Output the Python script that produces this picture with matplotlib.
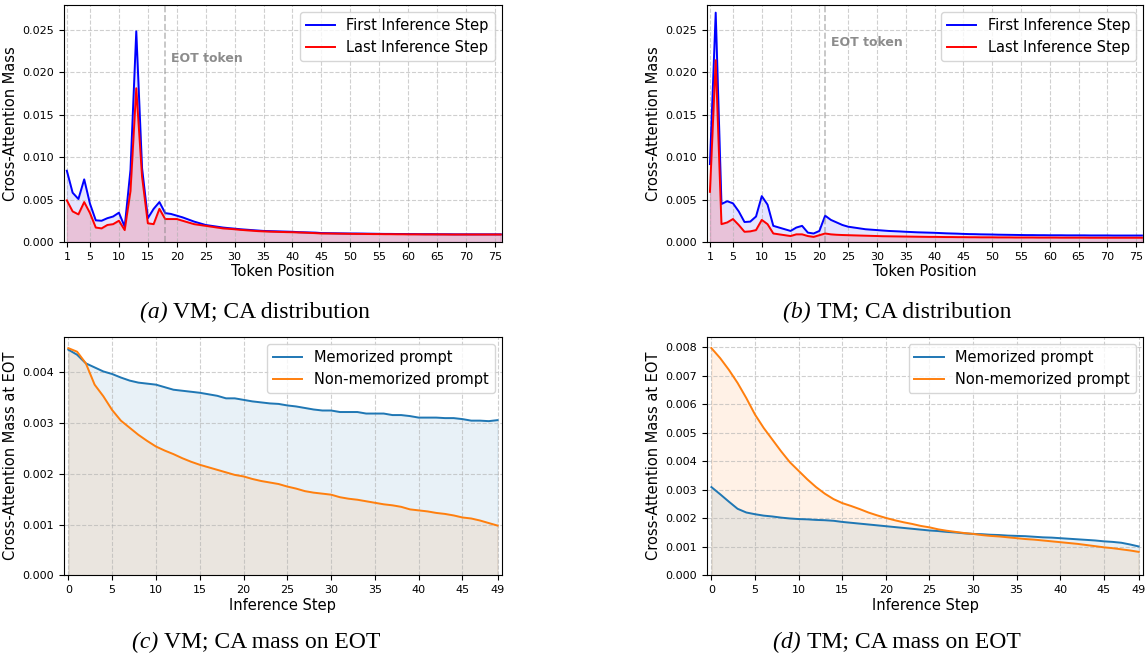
import numpy as np
import matplotlib
matplotlib.use("Agg")
import matplotlib.pyplot as plt

# token positions 1..76
tokens = np.arange(1, 77)

vm_first_head = [0.00839, 0.0058, 0.00506, 0.00737, 0.0045, 0.00255, 0.0025, 0.0028, 0.003, 0.00345,
                 0.0018, 0.0085, 0.0248, 0.0087, 0.0028, 0.0039, 0.0047, 0.0034, 0.0033, 0.0031,
                 0.0029, 0.00265, 0.0024, 0.0022, 0.002, 0.0019, 0.0018, 0.0017, 0.00163, 0.00157,
                 0.0015, 0.00145, 0.0014, 0.00135, 0.0013]
vm_last_head = [0.0049, 0.0036, 0.00325, 0.0047, 0.0034, 0.0017, 0.0016, 0.002, 0.0021, 0.0025,
                0.0014, 0.006, 0.0181, 0.0077, 0.0022, 0.0021, 0.0039, 0.0027, 0.0027, 0.0027,
                0.0025, 0.0023, 0.0021, 0.002, 0.0019, 0.0018, 0.0017, 0.0016, 0.00155, 0.0015,
                0.00143, 0.00138, 0.00133, 0.00128, 0.00125]
vm_first_tail = [0.00128, 0.00126, 0.00124, 0.00122, 0.0012, 0.00116, 0.00114, 0.00112, 0.0011, 0.00105,
                 0.00104, 0.00103, 0.00102, 0.00101, 0.001, 0.001, 0.00099, 0.00098, 0.00097, 0.00096,
                 0.00095, 0.00095, 0.00094, 0.00094, 0.00093, 0.00093, 0.00092, 0.00092, 0.00092, 0.00091,
                 0.00091, 0.00091, 0.0009, 0.0009, 0.0009, 0.0009, 0.0009, 0.0009, 0.0009, 0.0009,
                 0.0009]
vm_last_tail = [0.00122, 0.0012, 0.00118, 0.00116, 0.00115, 0.00112, 0.0011, 0.00107, 0.00104, 0.001,
                0.001, 0.00099, 0.00098, 0.00097, 0.00096, 0.00095, 0.00095, 0.00094, 0.00093, 0.00093,
                0.00092, 0.00092, 0.00091, 0.00091, 0.0009, 0.0009, 0.0009, 0.00089, 0.00089, 0.00089,
                0.00089, 0.00088, 0.00088, 0.00088, 0.00088, 0.00088, 0.00088, 0.00088, 0.00088, 0.00088,
                0.00088]
vm_first = vm_first_head + vm_first_tail
vm_last = vm_last_head + vm_last_tail

# (b) TM
tm_first_head = [0.00917, 0.0270, 0.00447, 0.0048, 0.00455, 0.0036, 0.00235, 0.0024, 0.003, 0.0054,
                 0.0044, 0.0019, 0.0017, 0.0015, 0.0013, 0.0017, 0.0019, 0.0011, 0.001, 0.0013,
                 0.0031, 0.0026, 0.0023, 0.002, 0.0018, 0.0017, 0.0016, 0.0015, 0.00145, 0.0014,
                 0.00135, 0.0013, 0.00127, 0.00124, 0.0012]
tm_last_head = [0.0059, 0.0214, 0.0021, 0.0023, 0.0027, 0.002, 0.0012, 0.00125, 0.0014, 0.0026,
                0.0021, 0.001, 0.0009, 0.0008, 0.0007, 0.0009, 0.0009, 0.0007, 0.0006, 0.0008,
                0.001, 0.0009, 0.00085, 0.00082, 0.0008, 0.00078, 0.00076, 0.00074, 0.00072, 0.0007,
                0.00068, 0.00067, 0.00066, 0.00065, 0.00064]
tm_first_tail = [0.00117, 0.00114, 0.00112, 0.0011, 0.00108, 0.00105, 0.00102, 0.001, 0.00098, 0.00095,
                 0.00093, 0.00092, 0.0009, 0.00089, 0.00088, 0.00086, 0.00085, 0.00084, 0.00083, 0.00082,
                 0.00081, 0.00081, 0.0008, 0.0008, 0.00079, 0.00079, 0.00079, 0.00078, 0.00078, 0.00078,
                 0.00078, 0.00077, 0.00077, 0.00077, 0.00077, 0.00076, 0.00076, 0.00076, 0.00076, 0.00076,
                 0.00076]
tm_last_tail = [0.00063, 0.00062, 0.00061, 0.0006, 0.0006, 0.00059, 0.00058, 0.00058, 0.00057, 0.00057,
                0.00056, 0.00056, 0.00055, 0.00055, 0.00055, 0.00054, 0.00054, 0.00054, 0.00053, 0.00053,
                0.00053, 0.00053, 0.00052, 0.00052, 0.00052, 0.00052, 0.00051, 0.00051, 0.00051, 0.00051,
                0.00051, 0.0005, 0.0005, 0.0005, 0.0005, 0.0005, 0.0005, 0.0005, 0.0005, 0.0005,
                0.0005]
tm_first = tm_first_head + tm_first_tail
tm_last = tm_last_head + tm_last_tail

vm_eot = 18
tm_eot = 21

# inference steps 0..49
steps = np.arange(50)

vm_mem = [0.00445, 0.00435, 0.00418, 0.0041, 0.00402, 0.00397, 0.0039, 0.00384, 0.0038, 0.00378,
          0.00376, 0.00371, 0.00366, 0.00364, 0.00362, 0.0036, 0.00357, 0.00354, 0.00349, 0.00349,
          0.00346, 0.00343, 0.00341, 0.00339, 0.00338, 0.00335, 0.00333, 0.0033, 0.00327, 0.00325,
          0.00325, 0.00322, 0.00322, 0.00322, 0.00319, 0.00319, 0.00319, 0.00316, 0.00316, 0.00314,
          0.00311, 0.00311, 0.00311, 0.0031, 0.0031, 0.00308, 0.00305, 0.00305, 0.00304, 0.00306]
vm_nonmem = [0.00448, 0.00441, 0.00418, 0.00376, 0.00353, 0.00326, 0.00305, 0.00291, 0.00277, 0.00265,
             0.00254, 0.00246, 0.00239, 0.00231, 0.00224, 0.00218, 0.00213, 0.00208, 0.00203, 0.00198,
             0.00195, 0.0019, 0.00186, 0.00183, 0.0018, 0.00175, 0.00171, 0.00166, 0.00163, 0.00161,
             0.00159, 0.00154, 0.00151, 0.00149, 0.00146, 0.00143, 0.0014, 0.00138, 0.00135, 0.0013,
             0.00128, 0.00126, 0.00123, 0.00121, 0.00118, 0.00114, 0.00112, 0.00108, 0.00103, 0.00098]

tm_mem = [0.00309, 0.00284, 0.00258, 0.00233, 0.0022, 0.00214, 0.00209, 0.00206, 0.00202, 0.00199,
          0.00197, 0.00196, 0.00194, 0.00193, 0.00191, 0.00187, 0.00184, 0.00181, 0.00178, 0.00175,
          0.00172, 0.00169, 0.00166, 0.00163, 0.0016, 0.00157, 0.00155, 0.00152, 0.0015, 0.00147,
          0.00145, 0.00144, 0.00142, 0.00141, 0.00139, 0.00138, 0.00137, 0.00135, 0.00133, 0.00132,
          0.0013, 0.00128, 0.00126, 0.00124, 0.00122, 0.00119, 0.00117, 0.00114, 0.00108, 0.00101]
tm_nonmem = [0.00796, 0.00761, 0.0072, 0.00674, 0.00621, 0.00563, 0.00516, 0.00475, 0.00434, 0.00396,
             0.00366, 0.00336, 0.00309, 0.00286, 0.00267, 0.00253, 0.00243, 0.00232, 0.0022, 0.0021,
             0.00201, 0.00193, 0.00186, 0.0018, 0.00173, 0.00168, 0.00161, 0.00156, 0.00152, 0.00148,
             0.00145, 0.00141, 0.00138, 0.00136, 0.00133, 0.0013, 0.00127, 0.00125, 0.00122, 0.00119,
             0.00116, 0.00113, 0.0011, 0.00106, 0.00102, 0.00098, 0.00095, 0.00091, 0.00087, 0.00082]

token_ticks = [1] + list(range(5, 80, 5))
step_ticks = list(range(0, 50, 5)) + [49]

cap_tags = ["(a)", "(b)", "(c)", "(d)"]
cap_texts = ["VM; CA distribution", "TM; CA distribution", "VM; CA mass on EOT", "TM; CA mass on EOT"]

fig = plt.figure(figsize=(11.48, 6.57), dpi=100)
ax_a = fig.add_axes([0.0557, 0.6317, 0.3815, 0.3607])
ax_b = fig.add_axes([0.6159, 0.6317, 0.3798, 0.3607])
ax_c = fig.add_axes([0.0557, 0.1244, 0.3815, 0.3627])
ax_d = fig.add_axes([0.6159, 0.1244, 0.3798, 0.3627])


def token_plot(ax, first, last, eot):
    ax.plot(tokens, first, color='blue', lw=1.4, label='First Inference Step')
    ax.plot(tokens, last, color='red', lw=1.4, label='Last Inference Step')
    ax.fill_between(tokens, first, color='blue', alpha=0.1)
    ax.fill_between(tokens, last, color='red', alpha=0.15)
    ax.axvline(eot, color='gray', linestyle='--', alpha=0.5, lw=1.2)
    ax.text(eot + 1, 0.87 * max(first), 'EOT token', color='gray', fontweight='bold',
            fontsize=9, va='center', alpha=0.9)
    ax.set_xlim(0.5, 76.2)
    ax.set_ylim(0, 0.0279)
    ax.set_xticks(token_ticks)
    ax.set_xlabel('Token Position', fontsize=10.5, labelpad=2)
    ax.set_ylabel('Cross-Attention Mass', fontsize=10.5, labelpad=3)
    ax.tick_params(labelsize=8)
    ax.grid(True, linestyle='--', alpha=0.6)
    ax.legend(loc='upper right', fontsize=10.5)


def step_plot(ax, mem, nonmem, ymax):
    ax.plot(steps, mem, color='C0', lw=1.4, label='Memorized prompt')
    ax.plot(steps, nonmem, color='C1', lw=1.4, label='Non-memorized prompt')
    ax.fill_between(steps, mem, color='C0', alpha=0.1)
    ax.fill_between(steps, nonmem, color='C1', alpha=0.1)
    ax.set_xlim(-0.5, 49.5)
    ax.set_ylim(0, ymax)
    ax.set_xticks(step_ticks)
    ax.set_xlabel('Inference Step', fontsize=10.5, labelpad=2)
    ax.set_ylabel('Cross-Attention Mass at EOT', fontsize=10.5, labelpad=3)
    ax.tick_params(labelsize=8)
    ax.grid(True, linestyle='--', alpha=0.6)
    ax.legend(loc='upper right', fontsize=10.5)


token_plot(ax_a, vm_first, vm_last, vm_eot)
token_plot(ax_b, tm_first, tm_last, tm_eot)
step_plot(ax_c, vm_mem, vm_nonmem, 0.0047)
step_plot(ax_d, tm_mem, tm_nonmem, 0.00835)
ax_c.set_yticks([0, 0.001, 0.002, 0.003, 0.004])

# captions: italic tag + upright text, centred as a pair
cap_x = [255, 897, 256, 897]
cap_y = [312, 312, 642, 642]
fig.canvas.draw()
renderer = fig.canvas.get_renderer()
for cx, cy, tag, txt in zip(cap_x, cap_y, cap_tags, cap_texts):
    t1 = fig.text(0, 1 - cy / 657, tag + " ", ha='left', va='center', family='Liberation Serif',
                  style='italic', fontsize=17)
    t2 = fig.text(0, 1 - cy / 657, txt, ha='left', va='center', family='Liberation Serif', fontsize=17)
    w1 = t1.get_window_extent(renderer).width
    w2 = t2.get_window_extent(renderer).width
    x0 = cx - (w1 + w2) / 2
    t1.set_x(x0 / 1148)
    t2.set_x((x0 + w1) / 1148)

fig.savefig('out.png', dpi=100)
